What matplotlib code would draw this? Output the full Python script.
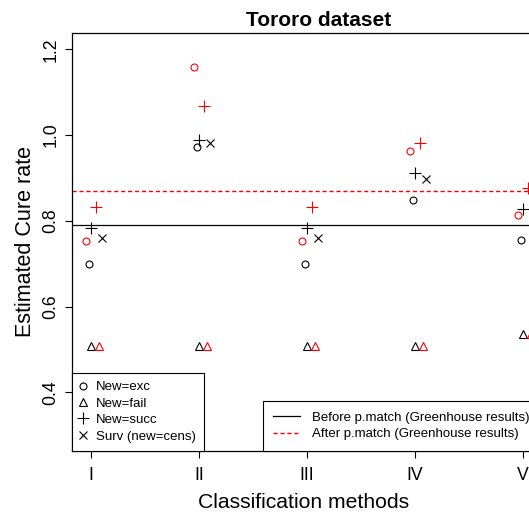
import matplotlib.pyplot as plt
from matplotlib.lines import Line2D

plt.rcParams["font.family"] = ["Liberation Sans", "DejaVu Sans"]

# --- Data ---
methods = ["I", "II", "III", "IV", "V"]
exc_before = [0.700, 0.973, 0.700, 0.848, 0.755]
exc_after = [0.752, 1.158, 0.753, 0.963, 0.813]
fail_before = [0.508, 0.508, 0.508, 0.508, 0.536]
fail_after = [0.508, 0.508, 0.508, 0.508, 0.536]
succ_before = [0.784, 0.988, 0.784, 0.911, 0.827]
succ_after = [0.833, 1.068, 0.833, 0.981, 0.876]
surv = [0.760, 0.982, 0.761, 0.897, 0.800]
greenhouse_before = 0.791
greenhouse_after = 0.870

x = list(range(1, len(methods) + 1))


def shift(d):
    return [v + d for v in x]


# plot region runs past the right edge of the picture, as in the original
xlim = (0.824, 5.40)
ax_w = (xlim[1] - xlim[0]) * 108
fig = plt.figure(figsize=(5.29, 5.14), dpi=100)
ax = fig.add_axes([72 / 529, (514 - 450.7) / 514, ax_w / 529, (450.7 - 33) / 514])

mk = dict(linestyle="none", markerfacecolor="none", markeredgewidth=0.8)
ax.plot(shift(-0.02), exc_before, marker="o", markersize=5, color="black", **mk)
ax.plot(shift(-0.05), exc_after, marker="o", markersize=5, color="red", **mk)
ax.plot(shift(0.0), fail_before, marker="^", markersize=6, color="black", **mk)
ax.plot(shift(0.075), fail_after, marker="^", markersize=6, color="red", **mk)
ax.plot(shift(0.0), succ_before, marker="+", markersize=8, color="black", **mk)
ax.plot(shift(0.05), succ_after, marker="+", markersize=8, color="red", **mk)
ax.plot(shift(0.1), surv, marker="x", markersize=5.5, color="black", **mk)

ax.axhline(greenhouse_before, color="black", lw=0.9)
ax.axhline(greenhouse_after, color="red", lw=1.0, linestyle=(0, (3, 2)))

ax.set_xlim(*xlim)
ax.set_ylim(0.264, 1.238)
ax.set_xticks(x)
ax.set_xticklabels(methods, fontsize=12.7)
ax.set_yticks([0.4, 0.6, 0.8, 1.0, 1.2])
ax.set_yticklabels(["0.4", "0.6", "0.8", "1.0", "1.2"], fontsize=12.7, rotation=90, va="center")
ax.tick_params(length=5, width=0.8)
ax.tick_params(axis="x", pad=7)
ax.tick_params(axis="y", pad=4)
for s in ax.spines.values():
    s.set_linewidth(0.9)

ax.set_xlabel("Classification methods", fontsize=15.2, labelpad=6)
ax.xaxis.label.set_x((304 - 72) / ax_w)
ax.set_ylabel("Estimated Cure rate", fontsize=15.5, labelpad=5)
ax.set_title("Tororo dataset", fontsize=15, fontweight="bold", pad=5, x=(319 - 72) / ax_w)

# legend of point types
h1 = [
    Line2D([], [], marker="o", color="black", markersize=5, **mk),
    Line2D([], [], marker="^", color="black", markersize=6, **mk),
    Line2D([], [], marker="+", color="black", markersize=8, **mk),
    Line2D([], [], marker="x", color="black", markersize=5.5, **mk),
]
leg1 = ax.legend(h1, ["New=exc", "New=fail", "New=succ", "Surv (new=cens)"],
                 loc="lower left", borderaxespad=0, fontsize=9.5, fancybox=False,
                 edgecolor="black", framealpha=1, handlelength=0.5, handletextpad=0.72,
                 labelspacing=0.32, borderpad=0.62)
leg1.get_frame().set_linewidth(0.8)
ax.add_artist(leg1)

# legend of reference lines
h2 = [
    Line2D([], [], color="black", lw=0.9),
    Line2D([], [], color="red", lw=1.0, linestyle=(0, (3, 2))),
]
leg2 = ax.legend(h2, ["Before p.match (Greenhouse results)", "After p.match (Greenhouse results)"],
                 loc="lower left", bbox_to_anchor=((262.7 - 72) / ax_w, 0), borderaxespad=0,
                 fontsize=9.5, fancybox=False, edgecolor="black", framealpha=1,
                 handlelength=2.0, handletextpad=0.95, labelspacing=0.3, borderpad=0.8)
leg2.get_frame().set_linewidth(0.8)

fig.savefig("out.png", dpi=100)
